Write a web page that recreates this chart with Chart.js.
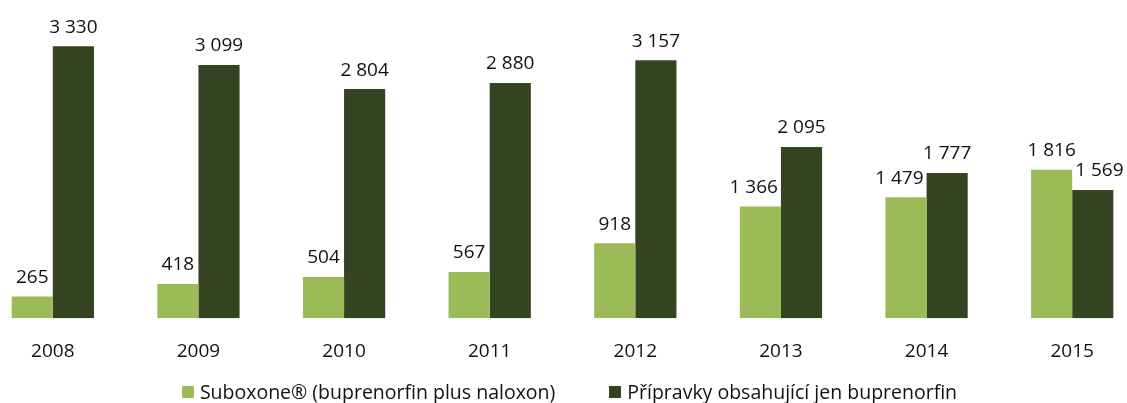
<!DOCTYPE html>
<html>
<head>
<meta charset="utf-8">
<script src="https://cdn.jsdelivr.net/npm/chart.js@4.4.1/dist/chart.umd.min.js"></script>
<style>
    html, body { margin: 0; padding: 0; background: #fff; overflow: hidden; }
    #wrap { position: relative; width: 1127px; height: 403px; overflow: hidden; }
    #wrap canvas { position: absolute; left: -20px; top: 0; }
    #legend {
        position: absolute; top: 378px; left: 0; width: 1139px;
        display: flex; justify-content: center; align-items: center;
        font: 19.5px "Open Sans", sans-serif; color: #111; white-space: nowrap;
    }
    #legend .item { display: flex; align-items: center; margin: 0 27px; }
    #legend .box { width: 12px; height: 12px; margin-right: 6px; }
</style>
</head>
<body>
<div id="wrap">
    <canvas id="chart" width="1165" height="403"></canvas>
    <div id="legend"></div>
</div>
<script>
    const years = ['2008', '2009', '2010', '2011', '2012', '2013', '2014', '2015'];
    const suboxone = [265, 418, 504, 567, 918, 1366, 1479, 1816];
    const buprenorfin = [3330, 3099, 2804, 2880, 3157, 2095, 1777, 1569];
    const seriesNames = ['Suboxone® (buprenorfin plus naloxon)', 'Přípravky obsahující jen buprenorfin'];
    const seriesColors = ['#9BBB59', '#344320'];

    function fmt(v) {
        return String(v).replace(/\B(?=(\d{3})+(?!\d))/g, ' ');
    }

    // hodnoty nad sloupci, posunuté když by zasahovaly do vedlejšího sloupce
    const barLabels = {
        id: 'barLabels',
        afterDatasetsDraw(chart) {
            const ctx = chart.ctx;
            ctx.save();
            ctx.font = '19px "Open Sans"';
            ctx.fillStyle = '#111';
            ctx.textAlign = 'center';
            ctx.textBaseline = 'middle';
            chart.data.datasets.forEach((ds, di) => {
                const meta = chart.getDatasetMeta(di);
                const other = chart.getDatasetMeta(1 - di);
                meta.data.forEach((bar, i) => {
                    const text = fmt(ds.data[i]);
                    const w = ctx.measureText(text).width;
                    const y = bar.y - 19;
                    const half = bar.width / 2;
                    let x = bar.x;
                    if (other.data[i].y < y + 10) {
                        if (di === 0 && x + w / 2 > bar.x + half - 3) x = bar.x + half - 3 - w / 2;
                        if (di === 1 && x - w / 2 < bar.x - half + 3) x = bar.x - half + 3 + w / 2;
                    }
                    ctx.fillText(text, x, y);
                });
            });
            ctx.restore();
        }
    };

    const ctx = document.getElementById('chart').getContext('2d');
    const chart = new Chart(ctx, {
        type: 'bar',
        data: {
            labels: years,
            datasets: [
                { label: seriesNames[0], data: suboxone, backgroundColor: seriesColors[0] },
                { label: seriesNames[1], data: buprenorfin, backgroundColor: seriesColors[1] }
            ]
        },
        options: {
            responsive: false,
            animation: false,
            categoryPercentage: 0.565,
            barPercentage: 1.0,
            layout: { padding: { top: 20, bottom: 26, left: 0, right: 0 } },
            plugins: {
                legend: { display: false },
                tooltip: { enabled: false }
            },
            scales: {
                x: {
                    grid: { display: false },
                    border: { display: false },
                    ticks: { color: '#111', font: { family: 'Open Sans', size: 19 }, padding: 14 }
                },
                y: { display: false, min: 0, max: 3650 }
            }
        },
        plugins: [barLabels]
    });

    const legend = document.getElementById('legend');
    seriesNames.forEach((name, i) => {
        const item = document.createElement('div');
        item.className = 'item';
        const box = document.createElement('span');
        box.className = 'box';
        box.style.background = seriesColors[i];
        const txt = document.createElement('span');
        txt.textContent = name;
        item.appendChild(box);
        item.appendChild(txt);
        legend.appendChild(item);
    });
</script>
</body>
</html>
